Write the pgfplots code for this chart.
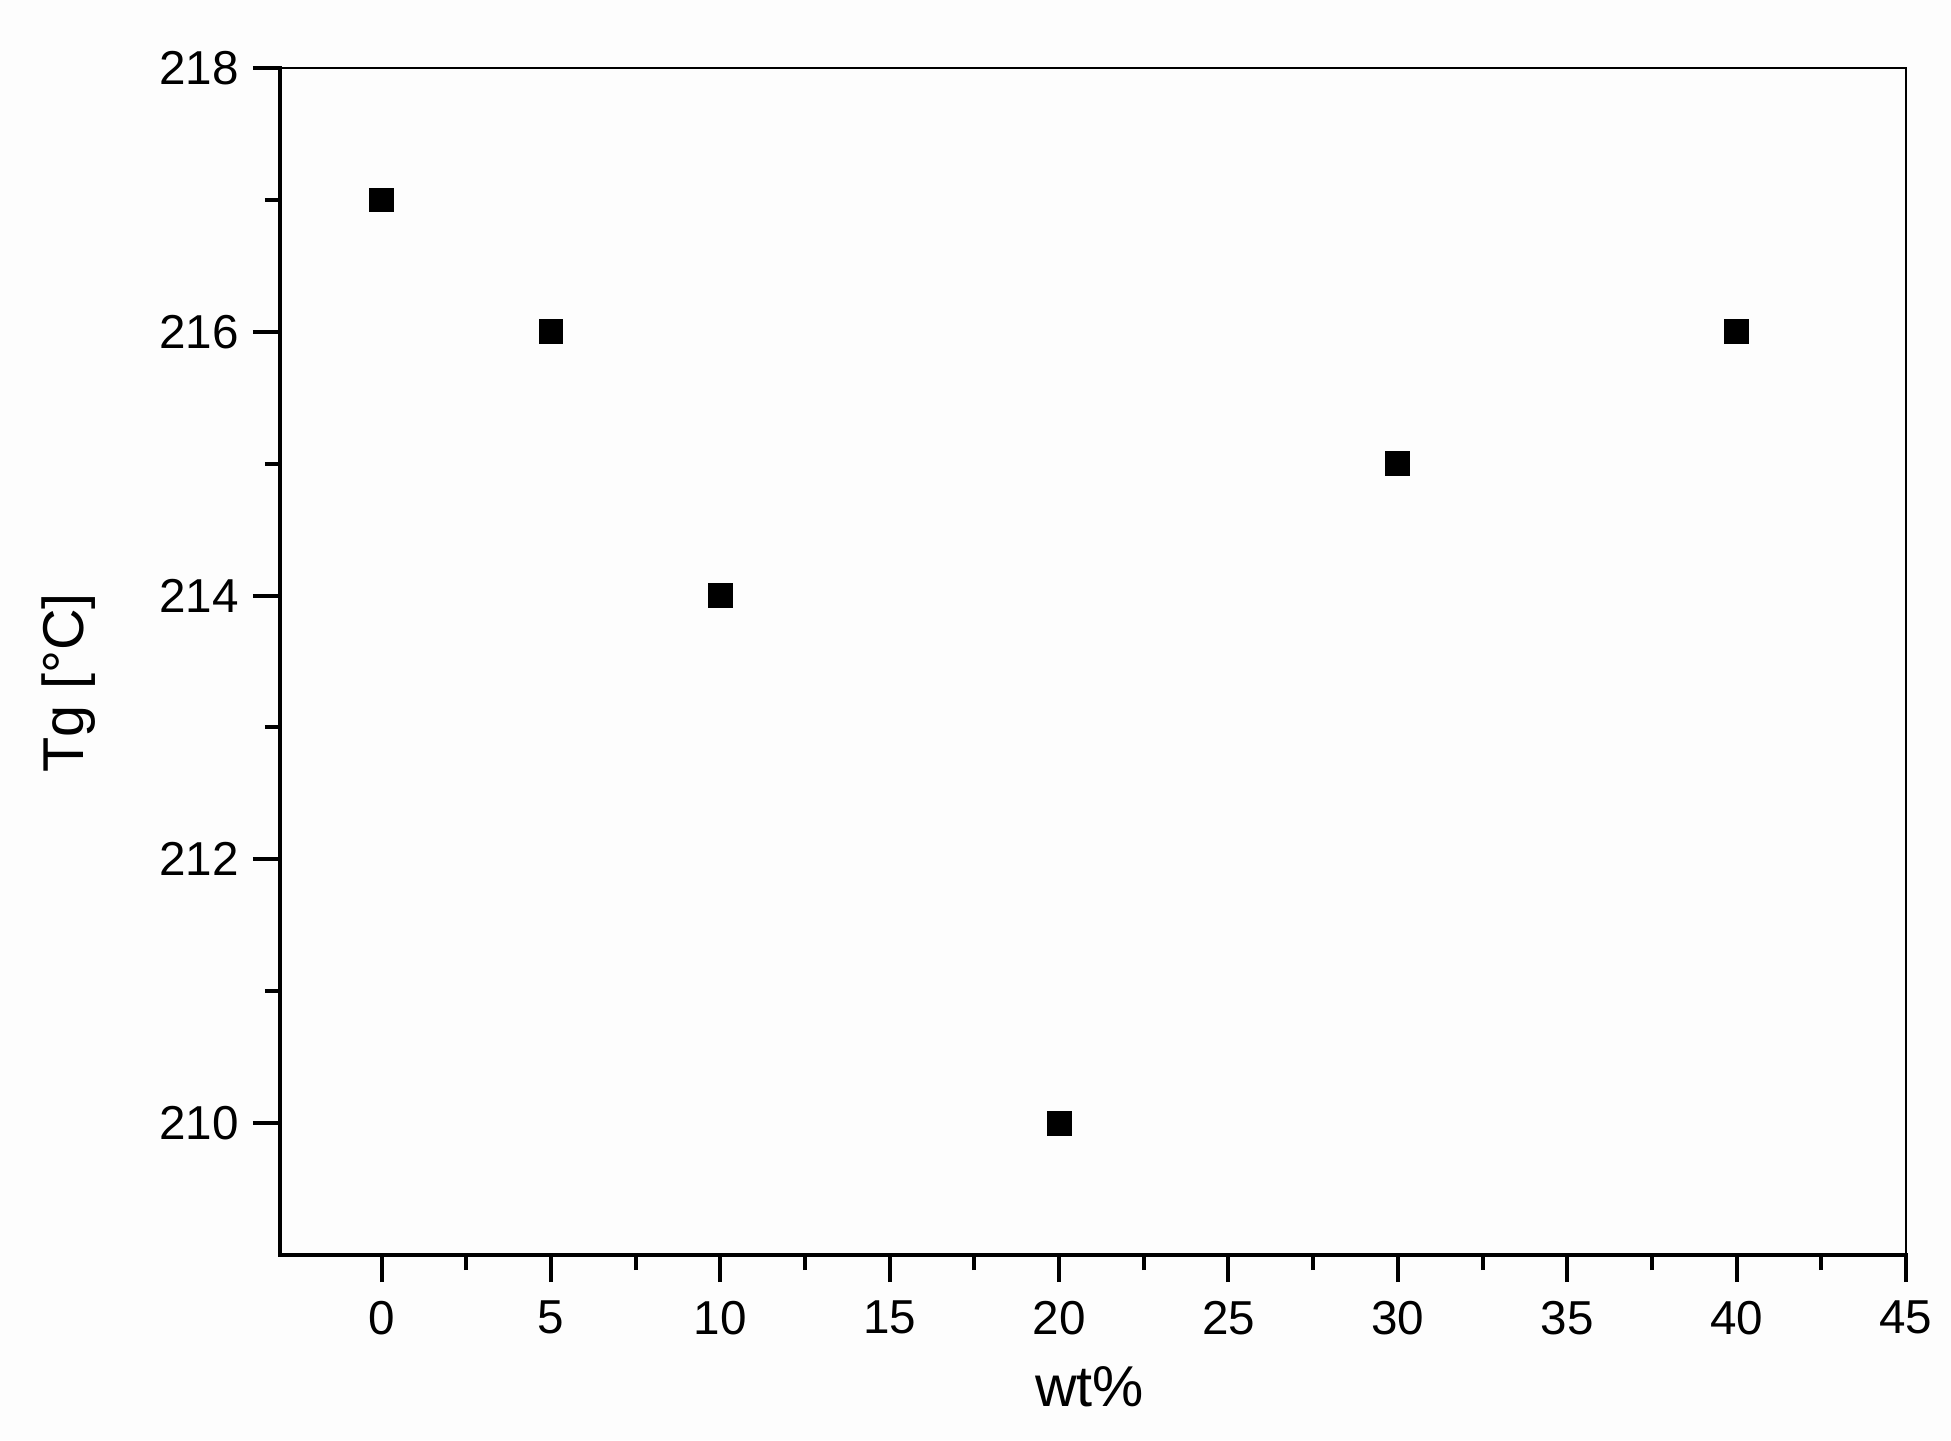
\documentclass[border=0pt]{standalone}
\usepackage{pgfplots}
\pgfplotsset{compat=1.18}
\usepackage{fontspec}
\setmainfont{Liberation Sans}
\definecolor{bg}{HTML}{FDFDFD}
\begin{document}
\begin{tikzpicture}
\path[use as bounding box, fill=bg] (-70pt,-46.25pt) rectangle (417.75pt,313.75pt);
\begin{axis}[
  at={(0,0)}, anchor=south west,
  scale only axis,
  width=406.5pt, height=296.75pt,
  xmin=-3, xmax=45, ymin=209, ymax=218,
  xtick={0,5,...,45}, ytick={210,212,...,218},
  minor x tick num=1, minor y tick num=1,
  xtick pos=bottom, ytick pos=left,
  tick align=outside,
  major tick length=6.75pt, minor tick length=3.75pt,
  every tick/.style={black, line width=1pt},
  axis line style={line width=0.35pt},
  /pgf/number format/assume math mode=true,
  /pgf/number format/1000 sep={},
  tick label style={font=\fontsize{11.9}{14}\selectfont},
  xticklabel style={yshift=-1.2pt},
  label style={font=\fontsize{14.4}{17}\selectfont},
  xlabel={wt\%},
  ylabel={Tg [°C]},
  xlabel style={at={(axis description cs:0.498,-0.111)}, anchor=center},
  ylabel style={at={(axis description cs:-0.130,0.482)}, anchor=center},
  clip=false,
]
\addplot[only marks, mark=square*, mark size=2.9pt, black] coordinates {
  (0,217) (5,216) (10,214) (20,210) (30,215) (40,216)
};
\draw[line width=1pt, line cap=rect] (rel axis cs:0,1) -- (rel axis cs:0,0) -- (rel axis cs:1,0);
\end{axis}
\end{tikzpicture}
\end{document}
